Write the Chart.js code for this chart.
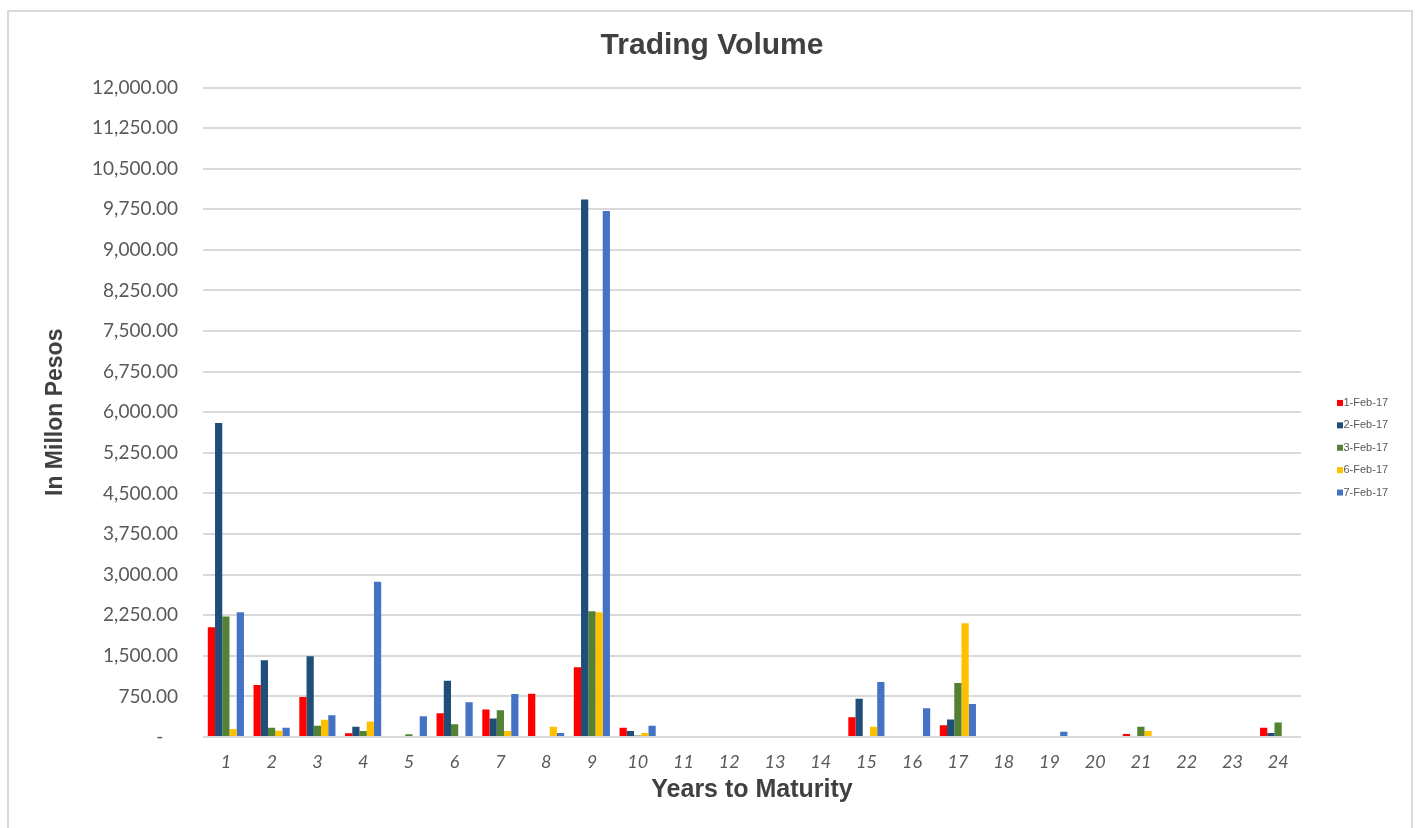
<!DOCTYPE html>
<html>
<head>
<meta charset="utf-8">
<title>Trading Volume</title>
<script src="https://cdn.jsdelivr.net/npm/chart.js@4.4.1/dist/chart.umd.min.js"></script>
<style>
  html, body { margin: 0; padding: 0; background: #fff; }
  #frame {
    position: absolute; left: 7px; top: 10px;
    width: 1402px; height: 840px;
    border: 2px solid #d9d9d9;
  }
  #volumeChart { position: absolute; left: 0; top: 0; }
</style>
</head>
<body>
<div id="frame"></div>
<canvas id="volumeChart" width="1416" height="828"></canvas>
<script>
// years to maturity (x axis)
const years = ['1', '2', '3', '4', '5', '6', '7', '8', '9', '10', '11', '12',
  '13', '14', '15', '16', '17', '18', '19', '20', '21', '22', '23', '24'];

// trading days
const tradeDates = ['1-Feb-17', '2-Feb-17', '3-Feb-17', '6-Feb-17', '7-Feb-17'];

// volumes in million pesos
const feb1 = [2030, 960, 740, 70, 0, 440, 510, 800, 1290, 170, 0, 0, 0, 0, 365, 0, 215, 0, 0, 0, 55, 0, 0, 170];
const feb2 = [5800, 1420, 1490, 190, 0, 1040, 340, 0, 9930, 110, 0, 0, 0, 0, 705, 0, 325, 0, 0, 0, 0, 0, 0, 75];
const feb3 = [2225, 170, 210, 110, 50, 235, 495, 0, 2325, 30, 0, 0, 0, 0, 0, 0, 1000, 0, 0, 0, 190, 0, 0, 270];
const feb6 = [150, 115, 320, 285, 0, 0, 110, 190, 2305, 75, 0, 0, 0, 0, 190, 0, 2100, 0, 0, 0, 110, 0, 0, 0];
const feb7 = [2305, 170, 400, 2870, 385, 640, 795, 75, 9720, 210, 0, 0, 0, 0, 1015, 530, 610, 0, 95, 0, 0, 0, 0, 0];

const seriesValues = [feb1, feb2, feb3, feb6, feb7];
const seriesColors = ['#FF0000', '#1F4E79', '#548235', '#FFC000', '#4472C4'];

// y axis ticks
const yMin = 0;
const yMax = 12000;
const yStep = 750;

const TEXT = '#595959';

// small legend on the right, Excel style
const sideLegend = {
  id: 'sideLegend',
  afterDraw(chart) {
    const { ctx, chartArea } = chart;
    const x = chartArea.right + 36;
    const gap = 22.4;
    const n = chart.data.datasets.length;
    let y = (chartArea.top + chartArea.bottom) / 2 + 35.5 - gap * (n - 1) / 2;
    ctx.save();
    ctx.font = '11px "Liberation Sans", Arial, sans-serif';
    ctx.textBaseline = 'middle';
    ctx.textAlign = 'left';
    chart.data.datasets.forEach(ds => {
      ctx.fillStyle = ds.backgroundColor;
      ctx.fillRect(x, y - 3, 6, 6);
      ctx.fillStyle = TEXT;
      ctx.fillText(ds.label, x + 6.5, y);
      y += gap;
    });
    ctx.restore();
  }
};

const datasets = tradeDates.map((d, i) => ({
  label: d,
  data: seriesValues[i],
  backgroundColor: seriesColors[i],
  borderWidth: 0,
  barPercentage: 1,
  categoryPercentage: 0.79
}));

new Chart(document.getElementById('volumeChart'), {
  type: 'bar',
  data: { labels: years, datasets: datasets },
  plugins: [sideLegend],
  options: {
    responsive: false,
    animation: false,
    devicePixelRatio: 1,
    layout: { padding: { left: 8, right: 0, top: 0, bottom: 0 } },
    plugins: {
      legend: { display: false },
      tooltip: { enabled: false },
      title: {
        display: true,
        text: 'Trading Volume',
        color: '#404040',
        font: { family: '"Liberation Sans", Arial, sans-serif', size: 30, weight: 'bold' },
        padding: { top: 28, bottom: 23.5 }
      }
    },
    scales: {
      x: {
        grid: { display: false, drawTicks: false },
        border: { display: false },
        ticks: {
          color: TEXT,
          padding: 14,
          maxRotation: 0,
          autoSkip: false,
          font: { family: 'Lato, "Liberation Sans", sans-serif', size: 18, style: 'italic' }
        },
        title: {
          display: true,
          text: 'Years to Maturity',
          color: '#404040',
          font: { family: '"Liberation Sans", Arial, sans-serif', size: 25, weight: 'bold' },
          padding: { top: 0, bottom: 22.5 }
        },
        afterFit: s => { s.height = 91; }
      },
      y: {
        min: yMin,
        max: yMax,
        grid: { color: '#d9d9d9', lineWidth: 2, drawTicks: false },
        border: { display: false },
        ticks: {
          stepSize: yStep,
          color: TEXT,
          padding: 25,
          font: { family: 'Lato, "Liberation Sans", sans-serif', size: 19 },
          callback: v => v === 0 ? '-   ' :
            v.toLocaleString('en-US', { minimumFractionDigits: 2, maximumFractionDigits: 2 })
        },
        title: {
          display: true,
          text: 'In Millon Pesos',
          color: '#404040',
          font: { family: '"Liberation Sans", Arial, sans-serif', size: 23, weight: 'bold' },
          padding: { top: 34, bottom: 0 }
        },
        afterFit: s => { s.width = 195; }
      },
      // empty axis that only reserves room for the legend
      yRight: {
        position: 'right',
        display: true,
        grid: { display: false, drawTicks: false },
        border: { display: false },
        ticks: { display: false },
        afterFit: s => { s.width = 115; }
      }
    }
  }
});
</script>
</body>
</html>
